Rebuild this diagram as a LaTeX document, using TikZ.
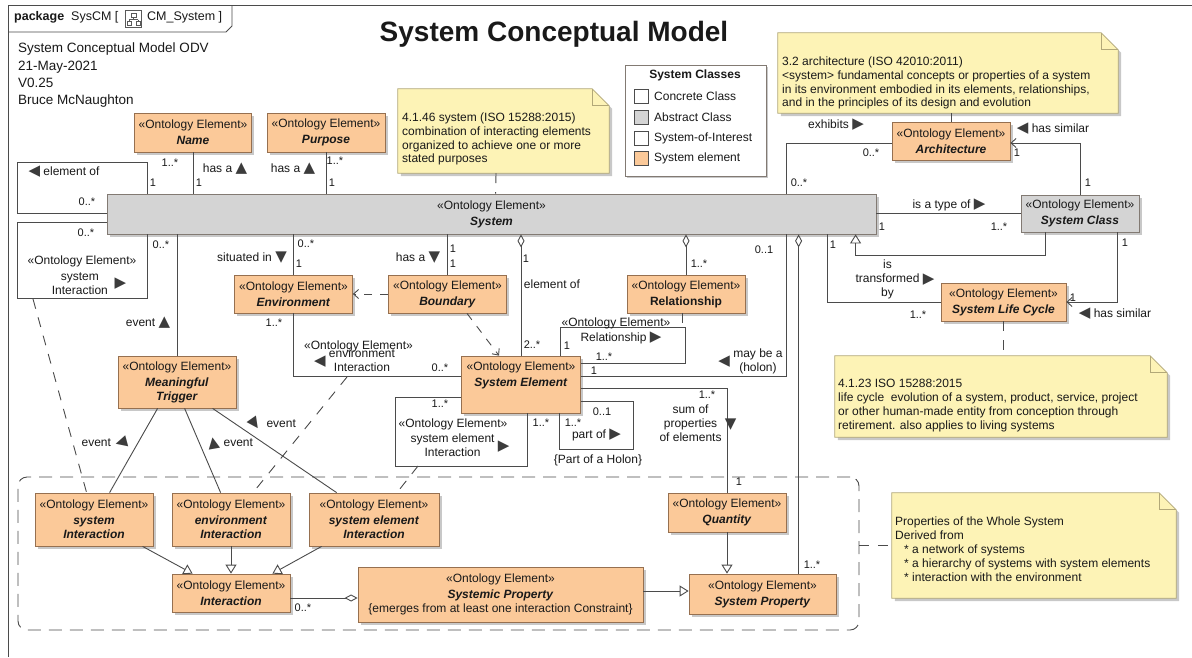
\documentclass[tikz,border=0pt]{standalone}
\usepackage{fontspec}
\setmainfont{Liberation Sans}
\newfontfamily\symfont{DejaVu Sans}
\usepackage{graphicx}
\usetikzlibrary{arrows.meta,calc,shadows}

\definecolor{orF}{RGB}{251,201,153}
\definecolor{orD}{RGB}{150,112,80}
\definecolor{grF}{RGB}{212,212,212}
\definecolor{grD}{RGB}{130,122,115}
\definecolor{noteF}{RGB}{253,243,182}
\definecolor{noteD}{RGB}{178,168,120}
\definecolor{shd}{RGB}{200,200,200}
\definecolor{lnC}{RGB}{75,75,75}
\definecolor{txt}{RGB}{25,25,25}
\definecolor{triC}{RGB}{60,60,60}

% direction triangles for association names
\newcommand\navtri[1]{{\symfont\fontsize{15}{15}\selectfont\textcolor{triC}{#1}}}
\newcommand\tR{\navtri{▶}}
\newcommand\tL{\navtri{◀}}
\newcommand\tU{\navtri{▲}}
\newcommand\tD{\navtri{▼}}
\newcommand\tRot[1]{\rotatebox[origin=c]{#1}{\tR}}
\newcommand\stk[1]{\begin{tabular}{@{}c@{}}#1\end{tabular}}
\newcommand\stereo{«Ontology Element»}
\newcommand\nm[1]{\textbf{\textit{#1}}}

% UML note with folded corner, drawn round an empty named node
\newcommand\notedraw[1]{%
  \fill[shd] ($(#1.north west)+(3,3)$) -- ($(#1.north east)+(-14,3)$) -- ($(#1.north east)+(3,20)$) -- ($(#1.south east)+(3,3)$) -- ($(#1.south west)+(3,3)$) -- cycle;
  \filldraw[fill=noteF, draw=noteD, line width=0.8pt] (#1.north west) -- ($(#1.north east)+(-17,0)$) -- ($(#1.north east)+(0,17)$) -- (#1.south east) -- (#1.south west) -- cycle;
  \draw[noteD, line width=0.8pt] ($(#1.north east)+(-17,0)$) -- ($(#1.north east)+(-17,17)$) -- ($(#1.north east)+(0,17)$);
}

\begin{document}
\begin{tikzpicture}[x=1pt,y=-1pt,
  every node/.style={inner sep=0pt, text=txt},
  elem/.style={draw=orD, fill=orF, line width=0.8pt, align=center,
    font=\fontsize{12}{14}\selectfont,
    drop shadow={shadow xshift=2.5pt,shadow yshift=-2.5pt,fill=shd,opacity=1}},
  abst/.style={elem, draw=grD, fill=grF},
  conn/.style={draw=lnC, line width=0.9pt},
  aggr/.style={conn, {Diamond[open,length=13pt,width=7pt]}-},
  gen/.style={conn, -{Triangle[open,length=9pt,width=11pt]}},
  nav/.style={conn, -{Straight Barb[length=5pt,width=9pt]}},
  dep/.style={conn, dash pattern=on 8pt off 8pt, -{Straight Barb[length=5pt,width=9pt]}},
  link/.style={conn, dash pattern=on 10pt off 9pt},
  mult/.style={font=\fontsize{11}{13}\selectfont},
  lab/.style={font=\fontsize{12}{14}\selectfont, align=center},
  notebox/.style={draw=none},
  notetext/.style={anchor=north west, align=left, font=\fontsize{12}{13.8}\selectfont},
  swatch/.style={draw=black!70, line width=0.8pt, minimum size=14pt},
  legtext/.style={anchor=west, font=\fontsize{12}{14}\selectfont},
  groupbox/.style={draw=lnC, line width=0.9pt, dash pattern=on 13pt off 8pt, rounded corners=9pt},
  icon/.style={draw=black!65, line width=0.7pt}
]
\useasboundingbox (0,0) rectangle (1192,657);
\fill[white] (0,0) rectangle (1192,657);

% ---------- package frame ----------
\draw[lnC, line width=0.9pt] (8,657) -- (8,5) -- (1192,5);
\draw[lnC, line width=0.9pt] (8,32) -- (226,32) -- (232,26) -- (232,5);
\node[anchor=west, font=\fontsize{12.5}{14}\selectfont] (pkgA) at (14,17.5) {\textbf{package}\ \ SysCM [};
\draw[icon] (125.5,10.5) rectangle (141.5,27.5);
\draw[icon] (131,13) rectangle (136,17);
\draw[icon] (133.5,17) -- (133.5,19.5) (129,19.5) -- (138,19.5) (129,19.5) -- (129,21) (138,19.5) -- (138,21);
\draw[icon] (127,21) rectangle (131,25) (136,21) rectangle (140,25);
\node[anchor=west, font=\fontsize{12.5}{14}\selectfont] (pkgB) at (147,17.5) {CM\_System ]};

\node[font=\fontsize{28}{32}\selectfont\bfseries] (title) at (554,34) {System Conceptual Model};
\node[anchor=north west, align=left, font=\fontsize{13.5}{17.3}\selectfont] (info) at (18,43)
  {System Conceptual Model ODV\\21-May-2021\\V0.25\\Bruce McNaughton};

% ---------- grouping of interactions and properties ----------
\node[groupbox, minimum width=841pt, minimum height=153pt] (group) at (438.5,553.5) {};

% ---------- notes ----------
\node[notebox, minimum width=211pt, minimum height=84pt] (noteSys) at (503.5,131) {};
\notedraw{noteSys}
\node[notetext] (noteSysT) at (402,112.5)
  {4.1.46 system (ISO 15288:2015)\\combination of interacting elements\\organized to achieve one or more\\stated purposes};

\node[notebox, minimum width=340pt, minimum height=80pt] (noteArch) at (948,73) {};
\notedraw{noteArch}
\node[notetext] (noteArchT) at (782,56.5)
  {3.2 architecture (ISO 42010:2011)\\<system> fundamental concepts or properties of a system\\in its environment embodied in its elements, relationships,\\and in the principles of its design and evolution};

\node[notebox, minimum width=332pt, minimum height=81pt] (noteLC) at (1001,396.5) {};
\notedraw{noteLC}
\node[notetext, font=\fontsize{12}{14}\selectfont] (noteLCT) at (838,378.5)
  {4.1.23 ISO 15288:2015\\life cycle\ \ evolution of a system, product, service, project\\or other human-made entity from conception through\\retirement. also applies to living systems};

\node[notebox, minimum width=284pt, minimum height=105pt] (noteProp) at (1034,545.5) {};
\notedraw{noteProp}
\node[notetext, font=\fontsize{12}{14}\selectfont] (notePropT) at (895,516.5)
  {Properties of the Whole System\\Derived from\\\hspace*{9pt}* a network of systems\\\hspace*{9pt}* a hierarchy of systems with system elements\\\hspace*{9pt}* interaction with the environment};

% ---------- legend ----------
\node[draw=grD, fill=white, line width=0.8pt, minimum width=141pt, minimum height=111pt,
  drop shadow={shadow xshift=2pt,shadow yshift=-2pt,fill=shd,opacity=1}] (legend) at (695.5,120.5) {};
\node[font=\fontsize{12}{14}\selectfont\bfseries] (legT) at (695,75) {System Classes};
\node[swatch, fill=white] (sw1) at (641,96) {};
\node[swatch, fill=grF] (sw2) at (641,117) {};
\node[swatch, fill=white] (sw3) at (641,138) {};
\node[swatch, fill=orF] (sw4) at (641,158) {};
\node[legtext] (lg1) at (654,96) {Concrete Class};
\node[legtext] (lg2) at (654,117) {Abstract Class};
\node[legtext] (lg3) at (654,138) {System-of-Interest};
\node[legtext] (lg4) at (654,158) {System element};

% ---------- model elements ----------
\node[elem, minimum width=117pt, minimum height=39pt] (Name) at (193,132.5) {\stereo\\[2pt]\nm{Name}};
\node[elem, minimum width=118pt, minimum height=39pt] (Purpose) at (326,132.5) {\stereo\\[2pt]\nm{Purpose}};
\node[abst, minimum width=769pt, minimum height=40pt] (System) at (491.5,214) {\stereo\\[2pt]\nm{System}};
\node[elem, minimum width=118pt, minimum height=38pt] (Architecture) at (951,141) {\stereo\\[2pt]\nm{Architecture}};
\node[abst, minimum width=118pt, minimum height=37pt] (SystemClass) at (1080,213.5) {\stereo\\[2pt]\nm{System Class}};
\node[elem, minimum width=125pt, minimum height=38pt] (LifeCycle) at (1003.5,302) {\stereo\\[2pt]\nm{System Life Cycle}};
\node[elem, minimum width=118pt, minimum height=38pt] (Environment) at (293.5,294) {\stereo\\[2pt]\nm{Environment}};
\node[elem, minimum width=118pt, minimum height=38pt] (Boundary) at (447.5,294) {\stereo\\[2pt]\nm{Boundary}};
\node[elem, minimum width=118pt, minimum height=38pt] (Relationship) at (686,294) {\stereo\\[2pt]\textbf{Relationship}};
\node[elem, minimum width=119pt, minimum height=57pt] (SystemElement) at (521,384.5) {\stereo\\[2pt]\nm{System Element}\\[6pt]\mbox{}};
\node[elem, minimum width=118pt, minimum height=52pt] (Trigger) at (177,382) {\stereo\\[2pt]\nm{Meaningful}\\\nm{Trigger}};
\node[elem, minimum width=118pt, minimum height=53pt] (sysInt) at (94,519.5) {\stereo\\[2pt]\nm{system}\\\nm{Interaction}};
\node[elem, minimum width=118pt, minimum height=53pt] (envInt) at (231,519.5) {\stereo\\[2pt]\nm{environment}\\\nm{Interaction}};
\node[elem, minimum width=130pt, minimum height=53pt] (seInt) at (374,519.5) {\stereo\\[2pt]\nm{system element}\\\nm{Interaction}};
\node[elem, minimum width=118pt, minimum height=38pt] (Interaction) at (231,593) {\stereo\\[2pt]\nm{Interaction}};
\node[elem, minimum width=285pt, minimum height=55pt] (Systemic) at (500.5,594.5) {\stereo\\[2pt]\nm{Systemic Property}\\\{emerges from at least one interaction Constraint\}};
\node[elem, minimum width=147pt, minimum height=40pt] (SysProp) at (762.5,594) {\stereo\\[2pt]\nm{System Property}};
\node[elem, minimum width=118pt, minimum height=39pt] (Quantity) at (727,512.5) {\stereo\\[2pt]\nm{Quantity}};

% ---------- connectors ----------
\draw[conn] (Name.south) -- (Name.south |- System.north);
\draw[conn] (Purpose.south) -- (Purpose.south |- System.north);
% System element of System
\draw[conn] ($(System.north west)+(41,0)$) -- ++(0,-31) -- ++(-130,0) |- ($(System.north west)+(0,20)$);
% system Interaction (System with System)
\draw[conn] ($(System.north west)+(0,29)$) -- ++(-89,0) -- ++(0,76) -| ($(System.south west)+(41,0)$);
\coordinate (siAC) at (33,299);
\draw[link] (siAC) -- ($(sysInt.north west)+(52,0)$);

\draw[conn] (Trigger.north) -- (Trigger.north |- System.south);
\draw[conn] (Environment.north) -- (Environment.north |- System.south);
\draw[conn] (Boundary.north) -- (Boundary.north |- System.south);
\draw[aggr] (SystemElement.north |- System.south) -- (SystemElement.north);
\draw[aggr] (Relationship.north |- System.south) -- (Relationship.north);
\draw[aggr] ($(System.south west)+(692,0)$) -- ($(SysProp.north west)+(110,0)$);

\draw[dep] (Boundary.west) -- (Environment.east);
\draw[dep] ($(Boundary.south)+(19.5,0)$) -- ($(SystemElement.north)+(-22,0)$);

% Relationship between system elements
\draw[conn] ($(SystemElement.north west)+(99.5,0)$) -- ++(0,-28) -- ++(125,0) |- ($(SystemElement.north east)+(0,8)$);
\coordinate (relAC) at (682,328);
\draw[link] ($(Relationship.south)+(-4,0)$) -- (relAC);

% may be a (holon)
\draw[conn] ($(SystemElement.north east)+(0,21)$) -| ($(System.south west)+(680,0)$);

% environment Interaction
\draw[conn] (Environment.south) |- ($(SystemElement.north west)+(0,21)$);
\coordinate (eiAC) at (347,377);
\draw[link] (eiAC) -- ($(envInt.north)+(22,0)$);

% system element Interaction
\draw[conn] ($(SystemElement.south west)+(0,-16)$) -- ++(-65.5,0) -- ++(0,69) -| ($(SystemElement.south west)+(66.5,0)$);
\coordinate (seAC) at (418,466);
\draw[link] (seAC) -- ($(seInt.north)+(23,0)$);

% part of (holon)
\draw[conn] ($(SystemElement.south east)+(0,-12)$) -- ++(52.5,0) -- ++(0,48) -| ($(SystemElement.south west)+(98.5,0)$);

% sum of properties of elements
\draw[conn] ($(SystemElement.south east)+(0,-25)$) -| (Quantity.north);

% events from the trigger
\draw[conn] ($(Trigger.south west)+(40,0)$) -- ($(sysInt.north west)+(75,0)$);
\draw[conn] ($(Trigger.south west)+(67,0)$) -- ($(envInt.north west)+(49,0)$);
\draw[conn] ($(Trigger.south west)+(95,0)$) -- ($(seInt.north west)+(28,0)$);

% generalizations
\draw[gen] ($(sysInt.south west)+(108,0)$) -- ($(Interaction.north west)+(21,0)$);
\draw[gen] (envInt.south) -- (Interaction.north);
\draw[gen] ($(seInt.south west)+(13,0)$) -- ($(Interaction.north east)+(-18,0)$);
\draw[gen] ($(Systemic.east)+(0,-3.5)$) -- ($(Systemic.east -| SysProp.west)+(0,-3.5)$);
\draw[gen] (Quantity.south) -- (Quantity.south |- SysProp.north);
\draw[conn, -{Diamond[open,length=13pt,width=7pt]}] ($(Interaction.east)+(0,5)$) -- ($(Interaction.east -| Systemic.west)+(0,5)$);

% architecture, classes and life cycle
\draw[conn] ($(System.north west)+(680,0)$) |- ($(Architecture.west)+(0,2)$);
\draw[conn] (SystemClass.west) -- (SystemClass.west -| System.east);
\draw[nav] (SystemClass.north) |- ($(Architecture.east)+(0,2)$);
\draw[gen] ($(SystemClass.south west)+(25,0)$) -- ++(0,23) -| ($(System.south west)+(749,0)$);
\draw[conn] ($(System.south west)+(721,0)$) |- (LifeCycle.west);
\draw[nav] ($(SystemClass.south west)+(97,0)$) |- (LifeCycle.east);

% note anchors
\draw[link] ($(noteSys.south)+(-7.5,0)$) -- ($(System.north west)+(389,0)$);
\draw[link] (Architecture.north) -- (Architecture.north |- noteArch.south);
\draw[link] (LifeCycle.south) -- (LifeCycle.south |- noteLC.north);
\draw[link] (noteProp.west -| group.east) -- (noteProp.west);

% ---------- multiplicities ----------
\node[mult] (m1) at (153,183) {1};
\node[mult] (m2) at (87,202) {0..*};
\node[mult] (m3) at (170,163) {1..*};
\node[mult] (m4) at (199,183) {1};
\node[mult] (m5) at (335,161) {1..*};
\node[mult] (m6) at (332,183) {1};
\node[mult] (m7) at (86,233) {0..*};
\node[mult] (m8) at (161,245) {0..*};
\node[mult] (m9) at (306,244) {0..*};
\node[mult] (m10) at (299,264) {1};
\node[mult] (m11) at (453,249) {1};
\node[mult] (m12) at (453,264) {1};
\node[mult] (m13) at (526,259) {1};
\node[mult] (m14) at (532,345) {2..*};
\node[mult] (m15) at (699,264) {1..*};
\node[mult] (m16) at (764,250) {0..1};
\node[mult] (m17) at (567,346) {1};
\node[mult] (m18) at (604,357) {1..*};
\node[mult] (m19) at (594,371) {1};
\node[mult] (m20) at (274,323) {1..*};
\node[mult] (m21) at (440,368) {0..*};
\node[mult] (m22) at (440,404) {1..*};
\node[mult] (m23) at (541,423) {1..*};
\node[mult] (m24) at (602,412) {0..1};
\node[mult] (m25) at (573,423) {1..*};
\node[mult] (m26) at (707,395) {1..*};
\node[mult] (m27) at (739,482) {1};
\node[mult] (m28) at (303,608) {0..*};
\node[mult] (m29) at (812,565) {1..*};
\node[mult] (m30) at (871,153) {0..*};
\node[mult] (m31) at (799,183) {0..*};
\node[mult] (m32) at (1017,153) {1};
\node[mult] (m33) at (1088,183) {1};
\node[mult] (m34) at (882,227) {1};
\node[mult] (m35) at (999,227) {1..*};
\node[mult] (m36) at (833,245) {1};
\node[mult] (m37) at (918,315) {1..*};
\node[mult] (m38) at (1125,243) {1};
\node[mult] (m39) at (1073,298) {1};

% ---------- association names ----------
\node[lab] (L1) at (64,172) {\tL\ element of};
\node[lab] (L2) at (225,169) {has a \tU};
\node[lab] (L3) at (293,169) {has a \tU};
\node[lab] (L4a) at (82,261) {\stereo};
\node[lab] (L4b) at (89,284.5) {\stk{system\\Interaction}\ \ \tR};
\node[lab] (L5) at (148,323) {event \tU};
\node[lab] (L6) at (252,258) {situated in \tD};
\node[lab] (L7) at (418,258) {has a \tD};
\node[lab] (L8) at (552,284) {element of};
\node[lab] (L9a) at (616,323) {\stereo};
\node[lab] (L9b) at (621,338) {Relationship \tR};
\node[lab] (L10) at (750.5,362) {\tL\ \stk{may be a\\(holon)}};
\node[lab] (L11a) at (358.5,346) {\stereo};
\node[lab] (L11b) at (354.5,362) {\tL\ \stk{environment\\Interaction}};
\node[lab] (L12a) at (453,424) {\stereo};
\node[lab] (L12b) at (460,447) {\stk{system element\\Interaction}\ \tR};
\node[lab] (L13) at (596.5,435) {part of \tR};
\node[lab] (L14) at (598,460) {\{Part of a Holon\}};
\node[lab] (L15) at (698,425) {\stk{sum of\\properties\\of elements}\ \tD};
\node[lab] (L16) at (105,443) {event \tRot{195}};
\node[lab] (L17) at (230,443) {\tRot{100} event};
\node[lab] (L18) at (271.5,424) {\tRot{-55} event};
\node[lab] (L19) at (836,125) {exhibits \tR};
\node[lab] (L20) at (1053,129) {\tL\ has similar};
\node[lab] (L21) at (949,205) {is a type of \tR};
\node[lab] (L22) at (895,280) {\stk{is\\transformed\\by}\ \tR};
\node[lab] (L23) at (1115,314) {\tL\ has similar};
\end{tikzpicture}
\end{document}
